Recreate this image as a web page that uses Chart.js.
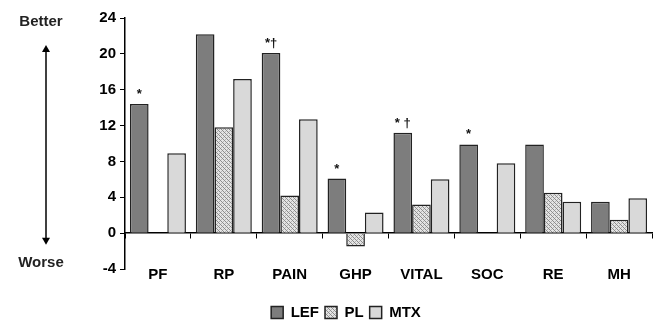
<!DOCTYPE html>
<html>
<head>
<meta charset="utf-8">
<script src="https://cdn.jsdelivr.net/npm/chart.js@4"></script>
<style>
  html, body { margin: 0; padding: 0; background: #fff; }
  #wrap { width: 668px; height: 320px; position: relative; }
</style>
</head>
<body>
<div id="wrap"><canvas id="chart" width="668" height="320"></canvas></div>
<script>
// SF-36 domains
const categories = ["PF", "RP", "PAIN", "GHP", "VITAL", "SOC", "RE", "MH"];
const lefValues = [14.4, 22.2, 20.1, 6.1, 11.2, 9.9, 9.9, 3.5];
const plValues = [0, 11.8, 4.2, -1.5, 3.2, 0, 4.5, 1.5];
const mtxValues = [8.9, 17.2, 12.7, 2.3, 6.0, 7.8, 3.5, 3.9];
const lefMarks = ["*", "", "*\u2020", "*", "* \u2020", "*", "", ""];
const yTicks = [-4, 0, 4, 8, 12, 16, 20, 24];

function makeHatch() {
  const c = document.createElement("canvas");
  c.width = 4;
  c.height = 4;
  const g = c.getContext("2d");
  g.fillStyle = "#e4e4e4";
  g.fillRect(0, 0, 4, 4);
  g.fillStyle = "#8c8c8c";
  for (let i = 0; i < 4; i++) g.fillRect(i, i, 1, 1);
  g.fillStyle = "#b4b4b4";
  g.fillRect(3, 1, 1, 1);
  g.fillRect(1, 3, 1, 1);
  return g.createPattern(c, "repeat");
}

const marksPlugin = {
  id: "marks",
  afterDatasetsDraw(chart) {
    const ctx = chart.ctx;
    const meta = chart.getDatasetMeta(0);
    ctx.save();
    ctx.fillStyle = "#111";
    ctx.font = "bold 13px Arial, 'Liberation Sans', sans-serif";
    ctx.textAlign = "center";
    ctx.textBaseline = "bottom";
    meta.data.forEach((bar, i) => {
      if (lefMarks[i]) ctx.fillText(lefMarks[i], bar.x, bar.y - 3);
    });
    ctx.restore();
  },
  afterDraw(chart) {
    // Better / Worse arrow on the left
    const ctx = chart.ctx;
    const y = chart.scales.y;
    const x = 46;
    const top = y.getPixelForValue(21.0);
    const bottom = y.getPixelForValue(-1.3);
    ctx.save();
    ctx.strokeStyle = "#000";
    ctx.fillStyle = "#000";
    ctx.lineWidth = 1.5;
    ctx.beginPath();
    ctx.moveTo(x, top + 4);
    ctx.lineTo(x, bottom - 4);
    ctx.stroke();
    ctx.beginPath();
    ctx.moveTo(x, top); ctx.lineTo(x - 4, top + 7); ctx.lineTo(x + 4, top + 7); ctx.closePath();
    ctx.fill();
    ctx.beginPath();
    ctx.moveTo(x, bottom); ctx.lineTo(x - 4, bottom - 7); ctx.lineTo(x + 4, bottom - 7); ctx.closePath();
    ctx.fill();
    ctx.font = "bold 15px Arial, 'Liberation Sans', sans-serif";
    ctx.textAlign = "center";
    ctx.textBaseline = "middle";
    ctx.fillStyle = "#222";
    ctx.fillText("Better", 41, y.getPixelForValue(23.6));
    ctx.fillText("Worse", 41, y.getPixelForValue(-3.3));
    ctx.restore();
  }
};

const ctx = document.getElementById("chart").getContext("2d");
const hatch = makeHatch();

new Chart(ctx, {
  type: "bar",
  data: {
    labels: categories,
    datasets: [
      { label: "LEF", data: lefValues, backgroundColor: "#7d7d7d", borderColor: "#222", borderWidth: 1.5 },
      { label: "PL", data: plValues, backgroundColor: hatch, borderColor: "#222", borderWidth: 1.5 },
      { label: "MTX", data: mtxValues, backgroundColor: "#d9d9d9", borderColor: "#222", borderWidth: 1.5 }
    ]
  },
  options: {
    responsive: false,
    animation: false,
    devicePixelRatio: 1,
    layout: { padding: { left: 40, right: 16, top: 18, bottom: -10 } },
    datasets: {
      bar: { categoryPercentage: 0.85, barPercentage: 1.0 }
    },
    plugins: {
      legend: {
        position: "bottom",
        // blank title only keeps room between the axis labels and the legend row
        title: { display: true, text: " ", font: { size: 10 }, padding: { top: 9, bottom: 9 } },
        labels: {
          color: "#000",
          boxWidth: 12,
          boxHeight: 12,
          padding: 6,
          font: { family: "Arial, 'Liberation Sans', sans-serif", size: 15, weight: "bold" }
        }
      },
      tooltip: { enabled: false }
    },
    scales: {
      x: {
        position: { y: 0 },
        grid: { offset: true, drawOnChartArea: false, drawTicks: true, tickLength: 5, color: "#000" },
        border: { color: "#000", width: 1.5 },
        ticks: {
          color: "#000",
          padding: 28,
          font: { family: "Arial, 'Liberation Sans', sans-serif", size: 15, weight: "bold" }
        }
      },
      y: {
        min: -4,
        max: 24,
        afterBuildTicks: (axis) => { axis.ticks = yTicks.map((v) => ({ value: v })); },
        afterFit: (axis) => { axis.width = 85; },
        grid: { drawOnChartArea: false, drawTicks: true, tickLength: 5, color: "#000" },
        border: { color: "#000", width: 1.5 },
        ticks: {
          color: "#000",
          padding: 4,
          font: { family: "Arial, 'Liberation Sans', sans-serif", size: 15, weight: "bold" }
        }
      }
    }
  },
  plugins: [marksPlugin]
});
</script>
</body>
</html>
